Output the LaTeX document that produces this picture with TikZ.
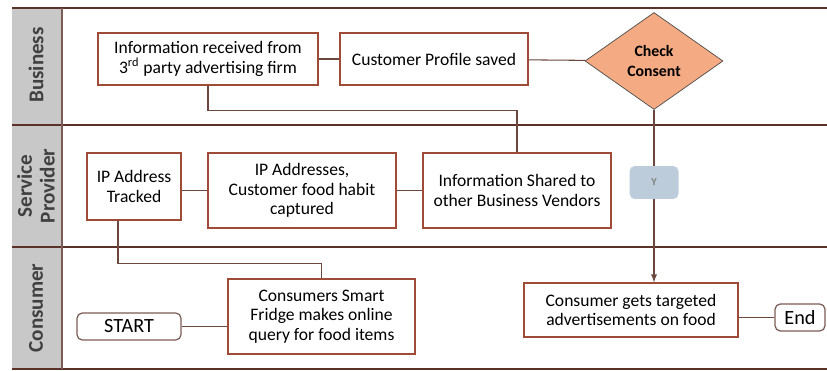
\documentclass[tikz,border=0pt]{standalone}
\usepackage{fontspec}
\setmainfont{Carlito}
\usepackage{xcolor}
\usepackage{tikz}
\usetikzlibrary{positioning,%
  shapes.geometric,%
  arrows,%
  calc}

\definecolor{boxline}{RGB}{160,75,55}
\definecolor{laneline}{RGB}{90,50,40}
\definecolor{lanegray}{RGB}{200,200,200}
\definecolor{lanetext}{RGB}{64,64,64}
\definecolor{consent}{RGB}{244,170,130}
\definecolor{ybox}{RGB}{189,204,219}

\tikzset{
  stepbox/.style={draw=boxline,fill=white,line width=0.7pt,align=center,
    inner sep=0pt,font=\fontsize{10}{11}\selectfont},
  termbox/.style={stepbox,draw=laneline!80,rounded corners=3pt,
    font=\fontsize{11.5}{12}\selectfont},
  lanelabel/.style={rotate=90,align=center,text=lanetext,
    font=\fontsize{12}{13}\selectfont\bfseries},
  link/.style={draw=laneline!90,line width=0.6pt}
}

\begin{document}
\begin{tikzpicture}[x=0.02cm,y=-0.02cm]
            \useasboundingbox (0,0) rectangle (827,371);

            % lanes
            \fill[lanegray] (12,8) rectangle (62,369);
            \draw[laneline,line width=0.8pt] (12,8) -- (827,8);
            \foreach \y in {125,247}
                \draw[laneline,line width=0.8pt] (12,\y) -- (827,\y);
            \draw[laneline,line width=0.6pt] (12,369) -- (827,369);
            \draw[laneline!80,line width=0.6pt] (62,8) -- (62,369);

            \node[lanelabel] (lbiz) at (36,65) {Business};
            \node[lanelabel] (lsp) at (36,186) {Service\\Provider};
            \node[lanelabel] (lcon) at (36,308) {Consumer};

            % business
            \node[stepbox,minimum width=4.4cm,minimum height=1.04cm] (info) at (208,59)
                {Information received from\\3\textsuperscript{rd} party advertising firm};
            \node[stepbox,minimum width=3.76cm,minimum height=1.04cm] (profile) at (434,59)
                {Customer Profile saved};
            \node[diamond,draw=black!70,fill=consent,inner sep=0pt,aspect=1.4,
                minimum width=2.76cm,minimum height=1.94cm,align=center,
                font=\fontsize{9}{11}\selectfont\bfseries] (check) at (654,61)
                {Check\\Consent};

            % service provider
            \node[stepbox,minimum width=1.88cm,minimum height=1.34cm] (iptrack) at (134,186.5)
                {IP Address\\Tracked};
            \node[stepbox,minimum width=3.76cm,minimum height=1.5cm] (habit) at (302,190.5)
                {IP Addresses,\\Customer food habit\\captured};
            \node[stepbox,minimum width=3.76cm,minimum height=1.5cm] (shared) at (517,190.5)
                {Information Shared to\\other Business Vendors};

            % consumer
            \node[termbox,minimum width=2.08cm,minimum height=0.54cm] (start) at (129,326.5) {START};
            \node[stepbox,minimum width=3.74cm,minimum height=1.5cm] (fridge) at (321.5,316.5)
                {Consumers Smart\\Fridge makes online\\query for food items};
            \node[stepbox,minimum width=4.28cm,minimum height=1.08cm] (ads) at (631,310)
                {Consumer gets targeted\\advertisements on food};
            \node[termbox,minimum width=1.0cm,minimum height=0.54cm] (end) at (800,317.5) {End};

            % connectors
            \draw[link] (info) -- (profile);
            \draw[link] (profile) -- (check);
            \draw[link] (info.south) -- ++(0,25) -| (shared.north);
            \draw[link] (habit.west) -- (habit.west -| iptrack.east);
            \draw[link] (shared.west) -- (shared.west -| habit.east);
            \draw[link] ([xshift=-0.32cm]iptrack.south) -- ++(0,43) -| (fridge.north);
            \draw[link] (start.east) -- (start.east -| fridge.west);
            \draw[link,-latex] (check.south) -- (check.south |- ads.north);
            \draw[link] (end.west) -- (end.west -| ads.east);

            \node[fill=ybox,rounded corners=3pt,minimum width=0.98cm,minimum height=0.66cm,
                inner sep=0pt,text=gray,font=\fontsize{6}{7}\selectfont\bfseries] (yes) at (654,182.5) {Y};
        \end{tikzpicture}
\end{document}
